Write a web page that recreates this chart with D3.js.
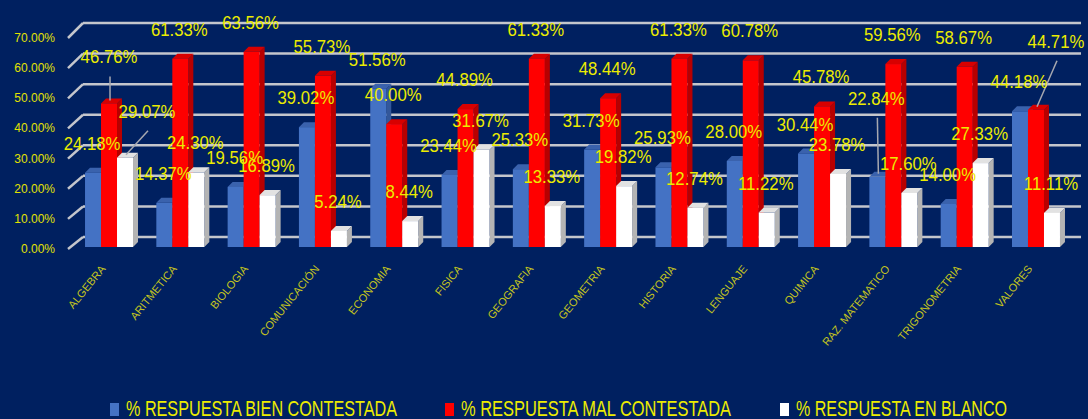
<!DOCTYPE html>
<html>
<head>
<meta charset="utf-8">
<script src="https://cdn.jsdelivr.net/npm/d3@7"></script>
<style>
  html, body { margin: 0; padding: 0; background: #002060; }
  svg { display: block; }
  text { font-family: "Liberation Sans", Arial, sans-serif; }
</style>
</head>
<body>
<div id="chartDiv"></div>
<script>
// values
const categories = ["ALGEBRA", "ARITMETICA", "BIOLOGIA", "COMUNICACIÓN", "ECONOMIA", "FISICA",
  "GEOGRAFIA", "GEOMETRIA", "HISTORIA", "LENGUAJE", "QUIMICA", "RAZ. MATEMATICO",
  "TRIGONOMETRIA", "VALORES"];
const seriesNames = ["% RESPUESTA BIEN CONTESTADA", "% RESPUESTA MAL CONTESTADA", "% RESPUESTA EN BLANCO"];
const bien = [24.18, 14.37, 19.56, 39.02, 51.56, 23.44, 25.33, 31.73, 25.93, 28.00, 30.44, 22.84, 14.00, 44.18];
const mal = [46.76, 61.33, 63.56, 55.73, 40.00, 44.89, 61.33, 48.44, 61.33, 60.78, 45.78, 59.56, 58.67, 44.71];
const blanco = [29.07, 24.30, 16.89, 5.24, 8.44, 31.67, 13.33, 19.82, 12.74, 11.22, 23.78, 17.60, 27.33, 11.11];
const yTicks = [0, 10, 20, 30, 40, 50, 60, 70];

const W = 1088, H = 419;
const colors = [
  { front: "#4472c4", top: "#3a62ad", side: "#33579a" },
  { front: "#ff0000", top: "#d80000", side: "#b80000" },
  { front: "#ffffff", top: "#e2e2e2", side: "#b4b4b4" }
];
const depth = { dx: 5, dy: -5 };

const svg = d3.select("#chartDiv").append("svg").attr("width", W).attr("height", H);
svg.append("rect").attr("width", W).attr("height", H).attr("fill", "#002060");

// scales: front plane for bars, back wall for gridlines, axis labels in between
const x = d3.scaleBand().domain(categories).range([73.4, 1071.6]).paddingInner(0.327).paddingOuter(0.163);
const y = d3.scaleLinear().domain([0, 70]).range([247, 32]);
const yBack = d3.scaleLinear().domain([0, 70]).range([237, 23]);
const yAxis = d3.scaleLinear().domain([0, 70]).range([249, 38]);
const bw = x.bandwidth() / 3;

// gridlines
const grid = svg.append("g");
grid.selectAll("line.h").data(yTicks).join("line").attr("class", "h")
  .attr("x1", 83).attr("x2", 1081)
  .attr("y1", d => yBack(d)).attr("y2", d => yBack(d))
  .attr("stroke", "#c4c6cc").attr("stroke-width", 2.5);
grid.selectAll("line.s").data(yTicks).join("line").attr("class", "s")
  .attr("x1", 68).attr("x2", 83)
  .attr("y1", d => yAxis(d)).attr("y2", d => yBack(d))
  .attr("stroke", "#c4c6cc").attr("stroke-width", 2.5);

// y tick labels
svg.append("g").selectAll("text").data(yTicks).join("text")
  .attr("x", 55).attr("y", d => yAxis(d))
  .attr("text-anchor", "end").attr("dominant-baseline", "central")
  .attr("font-size", 12).attr("fill", "#e2e200")
  .text(d => d3.format(".2f")(d) + "%");

// bars
const rows = [];
categories.forEach((c, i) => {
  [bien[i], mal[i], blanco[i]].forEach((v, s) => rows.push({ cat: c, s, v }));
});

const barG = svg.append("g").selectAll("g").data(rows).join("g");
const bx = d => x(d.cat) + d.s * bw;
barG.append("polygon")
  .attr("points", d => {
    const x1 = bx(d) + bw, t = y(d.v), b = y(0);
    return [[x1, t], [x1 + depth.dx, t + depth.dy], [x1 + depth.dx, b + depth.dy], [x1, b]].join(" ");
  })
  .attr("fill", d => colors[d.s].side);
barG.append("polygon")
  .attr("points", d => {
    const x0 = bx(d), t = y(d.v);
    return [[x0, t], [x0 + depth.dx, t + depth.dy], [x0 + bw + depth.dx, t + depth.dy], [x0 + bw, t]].join(" ");
  })
  .attr("fill", d => colors[d.s].top);
barG.append("rect")
  .attr("x", bx).attr("y", d => y(d.v))
  .attr("width", bw).attr("height", d => y(0) - y(d.v))
  .attr("fill", d => colors[d.s].front);

// x labels
svg.append("g").selectAll("text").data(categories).join("text")
  .attr("transform", d => `translate(${x(d) + x.bandwidth() / 2 - 3},269) rotate(-51)`)
  .attr("text-anchor", "end")
  .attr("font-size", 11).attr("fill", "#c4c41e")
  .text(d => d);

// data labels, a few moved by hand as in the original (with leader lines)
const nudges = {
  "ALGEBRA-1": { dx: 1, dy: -17 },
  "ALGEBRA-2": { dx: 23, dy: -17 },
  "RAZ. MATEMATICO-0": { dx: 0, dy: -49 },
  "VALORES-1": { dx: 21, dy: -39 }
};
const labelPos = d => {
  const n = nudges[d.cat + "-" + d.s] || { dx: 0, dy: 0 };
  return { x: bx(d) + bw / 2 - 1 + n.dx, y: y(d.v) - 23 + n.dy, moved: !!nudges[d.cat + "-" + d.s] };
};

svg.append("g").selectAll("line").data(rows.filter(d => labelPos(d).moved)).join("line")
  .attr("x1", d => labelPos(d).x + 1).attr("y1", d => labelPos(d).y + 13)
  .attr("x2", d => bx(d) + bw / 2 + 1).attr("y2", d => y(d.v) - 3)
  .attr("stroke", "#a6a8b0").attr("stroke-width", 1.5);

const lbl = svg.append("g").selectAll("text").data(rows).join("text")
  .attr("x", d => labelPos(d).x).attr("y", d => labelPos(d).y)
  .attr("text-anchor", "middle")
  .attr("font-size", 18).attr("fill", "#ecec00")
  .text(d => d3.format(".2f")(d.v) + "%");
lbl.each(function () {
  const len = this.getComputedTextLength();
  d3.select(this).attr("textLength", len * 0.93).attr("lengthAdjust", "spacingAndGlyphs");
});

// legend
const legendX = [110, 445, 780];
const legendW = [271, 270, 211];
const leg = svg.append("g").selectAll("g").data(seriesNames).join("g");
leg.append("rect")
  .attr("x", (d, i) => legendX[i]).attr("y", 403)
  .attr("width", 9).attr("height", 13)
  .attr("fill", (d, i) => colors[i].front);
leg.append("text")
  .attr("x", (d, i) => legendX[i] + 16).attr("y", 416)
  .attr("font-size", 22).attr("fill", "#ecec00")
  .attr("textLength", (d, i) => legendW[i]).attr("lengthAdjust", "spacingAndGlyphs")
  .text(d => d);
</script>
</body>
</html>
